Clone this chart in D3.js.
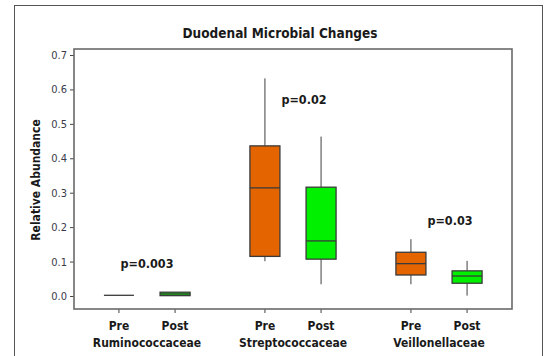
<!DOCTYPE html>
<html><head><meta charset="utf-8">
<script src="https://cdn.jsdelivr.net/npm/d3@7"></script>
<style>
body{margin:0;background:#fff;}
text{font-family:'DejaVu Sans Condensed','DejaVu Sans',sans-serif;}
</style></head>
<body><svg id="c" width="546" height="356"></svg>
<script>
const families = ["Ruminococcaceae", "Streptococcaceae", "Veillonellaceae"];
const phases = ["Pre", "Post"];
// [whiskerLow, q1, median, q3, whiskerHigh] per family per phase
const preStats = [
  [0.002, 0.002, 0.002, 0.002, 0.002],
  [0.101, 0.115, 0.314, 0.436, 0.632],
  [0.034, 0.061, 0.094, 0.127, 0.165]
];
const postStats = [
  [0.001, 0.001, 0.006, 0.011, 0.011],
  [0.034, 0.107, 0.160, 0.316, 0.463],
  [0.001, 0.037, 0.058, 0.073, 0.102]
];
const pLabels = ["p=0.003", "p=0.02", "p=0.03"];
const pValueY = [0.093, 0.571, 0.219];
const yTicks = [0.0, 0.1, 0.2, 0.3, 0.4, 0.5, 0.6, 0.7];
const title = "Duodenal Microbial Changes";
const yLabel = "Relative Abundance";

const svg = d3.select("#c");
const L = 74, R = 512, T = 49, B = 309;
const colors = {Pre: "#E46400", Post: "#00F000"};

// outer frame
svg.append("rect").attr("x", 14.5).attr("y", 5.5).attr("width", 528).attr("height", 360)
  .attr("fill", "none").attr("stroke", "#555").attr("stroke-width", 1);

const y = d3.scaleLinear().domain([-0.0378, 0.7174]).range([B, T]);
const xg = d3.scaleBand().domain(families).range([L, R]).padding(0);
const xp = d3.scalePoint().domain(phases).range([0, xg.bandwidth()]).padding(0.8);
const boxW = 30;

svg.append("text").attr("x", 280).attr("y", 38).attr("text-anchor", "middle")
  .attr("font-size", 13.5).attr("font-weight", "bold").attr("fill", "#1a1a1a").text(title);

// y axis
const yAxis = d3.axisLeft(y).tickValues(yTicks).tickFormat(d3.format(".1f")).tickSize(4).tickPadding(3);
const gy = svg.append("g").attr("transform", `translate(${L},0)`).call(yAxis);
gy.select(".domain").remove();
gy.selectAll(".tick line").attr("stroke", "#444");
gy.selectAll(".tick text").attr("font-size", 11).attr("fill", "#3a3a4a")
  .style("font-family", "'DejaVu Sans Condensed','DejaVu Sans',sans-serif");

// x axis ticks
const pts = [];
families.forEach((f, i) => phases.forEach(p => pts.push({f, p, i})));
const xPos = d => xg(d.f) + xp(d.p);
svg.append("g").selectAll("line").data(pts).join("line")
  .attr("x1", xPos).attr("x2", xPos).attr("y1", B).attr("y2", B + 4)
  .attr("stroke", "#444");
svg.append("g").selectAll("text").data(pts).join("text")
  .attr("x", xPos).attr("y", 330).attr("text-anchor", "middle")
  .attr("font-size", 12).attr("font-weight", "bold").attr("fill", "#1a1a1a")
  .text(d => d.p);
svg.append("g").selectAll("text").data(families).join("text")
  .attr("x", d => xg(d) + xg.bandwidth() / 2).attr("y", 347).attr("text-anchor", "middle")
  .attr("font-size", 12).attr("font-weight", "bold").attr("fill", "#1a1a1a")
  .text(d => d);

// y label
svg.append("text").attr("transform", `translate(40,180) rotate(-90)`).attr("text-anchor", "middle")
  .attr("font-size", 12).attr("font-weight", "bold").attr("fill", "#1a1a1a").text(yLabel);

// boxes
const boxes = [];
families.forEach((f, i) => {
  boxes.push({f, p: "Pre", s: preStats[i]});
  boxes.push({f, p: "Post", s: postStats[i]});
});
const gb = svg.append("g").selectAll("g").data(boxes).join("g");
gb.append("line").attr("x1", xPos).attr("x2", xPos)
  .attr("y1", d => y(d.s[4])).attr("y2", d => y(d.s[3])).attr("stroke", "#404040");
gb.append("line").attr("x1", xPos).attr("x2", xPos)
  .attr("y1", d => y(d.s[1])).attr("y2", d => y(d.s[0])).attr("stroke", "#404040");
gb.append("rect").attr("x", d => xPos(d) - boxW / 2).attr("width", boxW)
  .attr("y", d => y(d.s[3])).attr("height", d => Math.max(0, y(d.s[1]) - y(d.s[3])))
  .attr("fill", d => colors[d.p]).attr("stroke", "#3a3a3a").attr("stroke-width", 1.3);
gb.append("line").attr("x1", d => xPos(d) - boxW / 2).attr("x2", d => xPos(d) + boxW / 2)
  .attr("y1", d => y(d.s[2])).attr("y2", d => y(d.s[2])).attr("stroke", "#3a3a3a").attr("stroke-width", 1.3);

// p labels
svg.append("g").selectAll("text").data(families).join("text")
  .attr("x", (d, i) => xg(d) + xg.bandwidth() / 2 + (i === 0 ? 0 : 11))
  .attr("y", (d, i) => y(pValueY[i]) + 4.5).attr("text-anchor", "middle")
  .attr("font-size", 12.5).attr("font-weight", "bold").attr("fill", "#1a1a1a")
  .text((d, i) => pLabels[i]);

// plot frame
svg.append("rect").attr("x", L).attr("y", T).attr("width", R - L).attr("height", B - T)
  .attr("fill", "none").attr("stroke", "#6a6a6a").attr("stroke-width", 1.6);
</script></body></html>
